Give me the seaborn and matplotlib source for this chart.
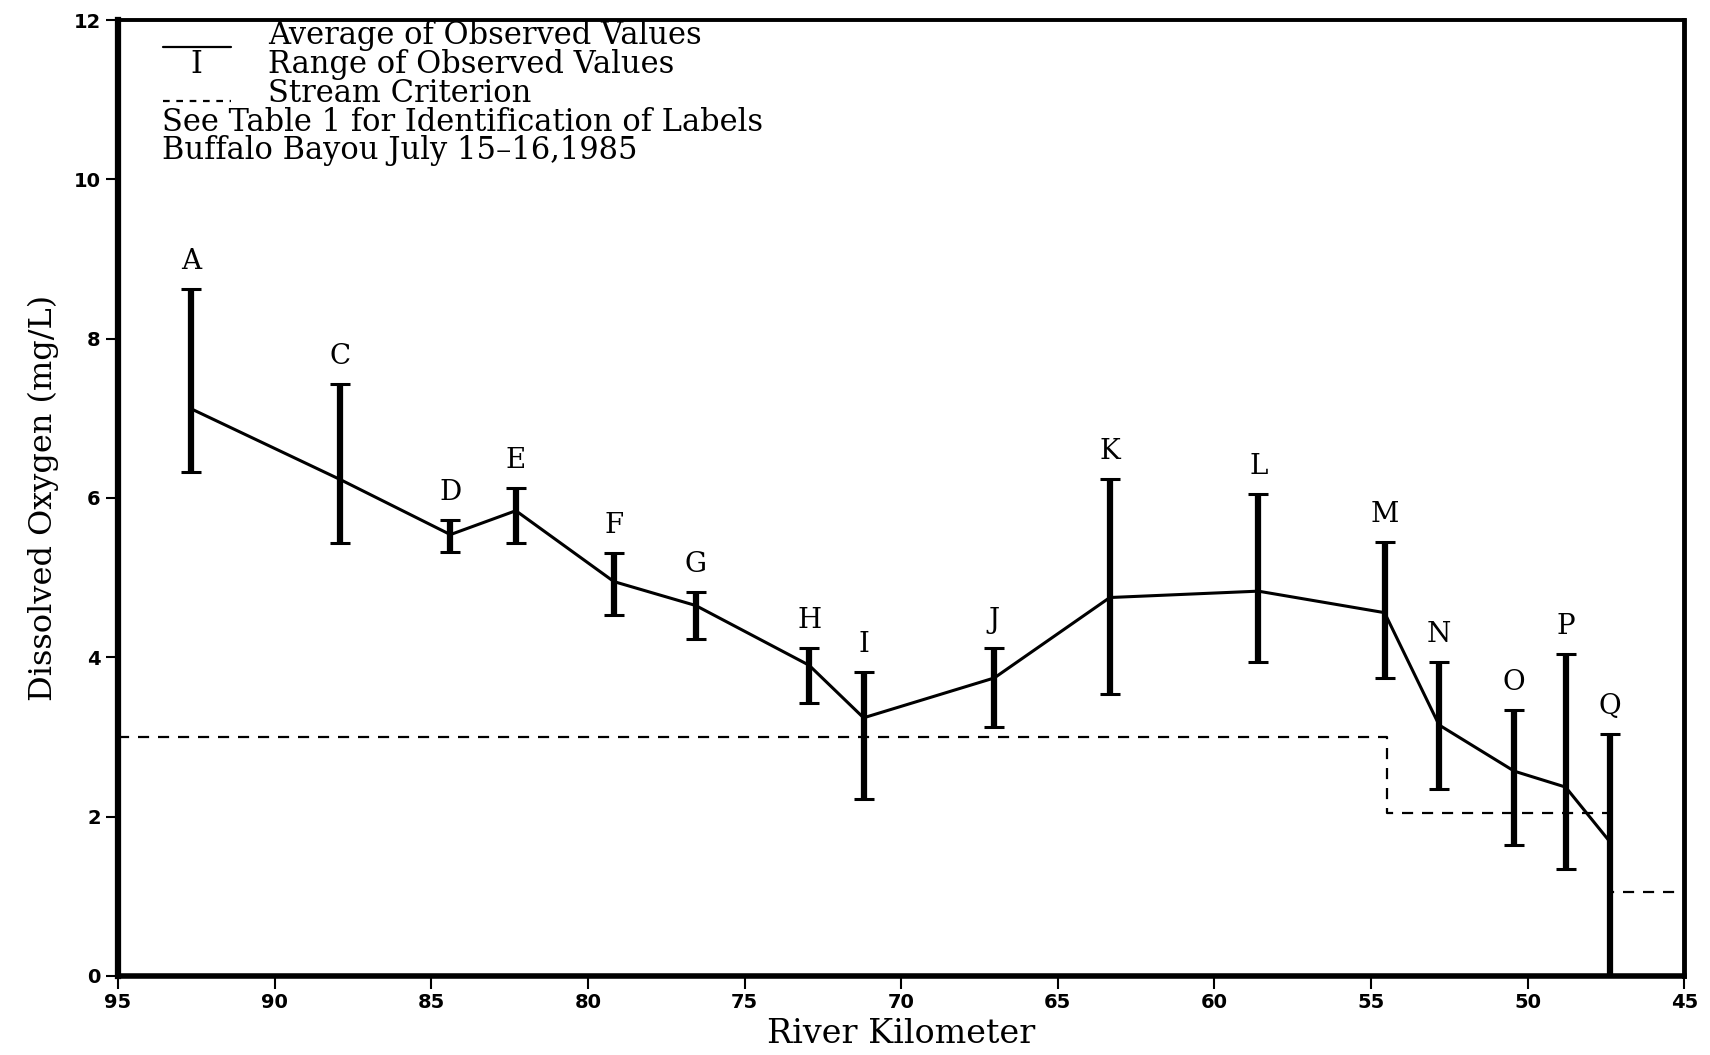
import matplotlib
matplotlib.use("Agg")
import matplotlib.pyplot as plt
import seaborn as sns
import pandas as pd

# Station data (river km, mean / min / max DO in mg/L)
labels = ["A", "C", "D", "E", "F", "G", "H", "I", "J", "K", "L", "M", "N", "O", "P", "Q"]
river_km = [92.67, 87.9, 84.39, 82.3, 79.17, 76.56, 72.94, 71.2, 67.03, 63.34, 58.6, 54.57, 52.83, 50.43, 48.79, 47.37]
do_mean = [7.12, 6.23, 5.54, 5.84, 4.95, 4.65, 3.90, 3.24, 3.74, 4.75, 4.83, 4.56, 3.15, 2.57, 2.37, 1.68]
do_min = [6.32, 5.43, 5.32, 5.43, 4.53, 4.23, 3.43, 2.22, 3.13, 3.54, 3.94, 3.74, 2.35, 1.64, 1.34, 0.0]
do_max = [8.62, 7.43, 5.72, 6.13, 5.31, 4.82, 4.12, 3.82, 4.12, 6.24, 6.05, 5.45, 3.94, 3.34, 4.04, 3.04]

# Stream criterion (step line)
crit_km = [95.0, 54.5, 54.5, 47.37, 47.37, 45.2]
crit_do = [3.0, 3.0, 2.05, 2.05, 1.05, 1.05]

df = pd.DataFrame({"km": river_km, "mean": do_mean, "lo": do_min, "hi": do_max, "label": labels})

sns.set_style("ticks")
plt.rcParams["font.family"] = ["DejaVu Serif"]
plt.rcParams["text.color"] = "black"
plt.rcParams["axes.labelcolor"] = "black"

fig = plt.figure(figsize=(17.1, 10.55), dpi=100)
ax = fig.add_axes([0.069, 0.075, 0.916, 0.906])

sns.lineplot(data=df, x="km", y="mean", color="black", linewidth=2.2, sort=False, ax=ax)
ax.errorbar(df["km"], df["mean"], yerr=[df["mean"] - df["lo"], df["hi"] - df["mean"]],
            fmt="none", ecolor="black", elinewidth=4.5, capsize=7, capthick=2.2)
ax.plot(crit_km, crit_do, color="black", linestyle=(0, (5, 4)), linewidth=1.6)

for _, r in df.iterrows():
    ax.annotate(r["label"], (r["km"], r["hi"]), xytext=(0, 10), textcoords="offset points",
                ha="center", va="bottom", fontsize=20, family="DejaVu Serif")

# legend block drawn as text, like the original
tfs = 22
ax.plot([93.55, 91.4], [11.66, 11.66], color="black", linewidth=1.6)
ax.text(90.2, 11.80, "Average of Observed Values", fontsize=tfs, va="center", ha="left")
ax.text(92.5, 11.44, "I", fontsize=tfs, va="center", ha="center")
ax.text(90.2, 11.44, "Range of Observed Values", fontsize=tfs, va="center", ha="left")
ax.plot([93.55, 91.4], [10.98, 10.98], color="black", linewidth=1.6, linestyle=(0, (3, 3)))
ax.text(90.2, 11.08, "Stream Criterion", fontsize=tfs, va="center", ha="left")
ax.text(93.6, 10.72, "See Table 1 for Identification of Labels", fontsize=tfs, va="center", ha="left")
ax.text(93.6, 10.36, "Buffalo Bayou July 15\u201316,1985", fontsize=tfs, va="center", ha="left")

ax.set_xlim(95, 45)
ax.set_ylim(0, 12)
ax.set_xticks(range(95, 44, -5))
ax.set_yticks(range(0, 13, 2))
ax.set_xlabel("River Kilometer", fontsize=24, labelpad=4)
ax.set_ylabel("Dissolved Oxygen (mg/L)", fontsize=23, labelpad=10)
for lab in ax.get_xticklabels() + ax.get_yticklabels():
    lab.set_family("DejaVu Sans")
    lab.set_fontweight("bold")
    lab.set_fontsize(14)
ax.tick_params(direction="out", length=9, width=1.5, colors="black")

ax.spines["left"].set_linewidth(4.5)
ax.spines["bottom"].set_linewidth(4)
ax.spines["top"].set_linewidth(2.8)
ax.spines["right"].set_linewidth(3.5)
for s in ax.spines.values():
    s.set_color("black")

fig.savefig("out.png", dpi=100)
